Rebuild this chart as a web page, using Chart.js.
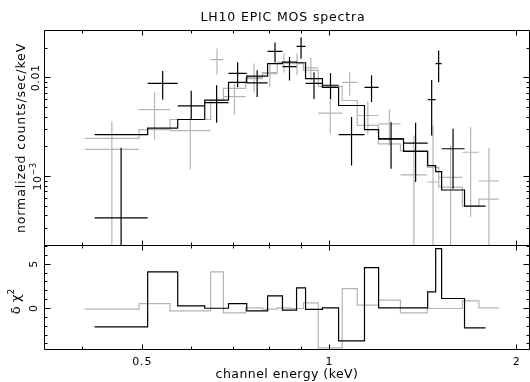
<!DOCTYPE html>
<html>
<head>
<meta charset="utf-8">
<title>LH10 EPIC MOS spectra</title>
<script src="https://cdn.jsdelivr.net/npm/chart.js@4.4.1/dist/chart.umd.min.js"></script>
<style>
  body { margin: 0; background: #ffffff; }
  #wrap { position: relative; width: 530px; height: 382px; }
  #wrap canvas { position: absolute; left: 0; top: 0; }
</style>
</head>
<body>
<div id="wrap">
  <canvas id="spectrum" width="530" height="382"></canvas>
  <canvas id="residuals" width="530" height="382"></canvas>
</div>
<script>
// ---- data ----

// MOS1 (black): channel bin edges in keV, count rate, error bar ends, model, residuals
const mos1Edges = [0.419, 0.510, 0.570, 0.630, 0.688, 0.736, 0.795, 0.840, 0.885, 0.915, 0.974, 1.034, 1.138, 1.199, 1.315, 1.438, 1.481, 1.514, 1.648, 1.782];
const mos1Rate  = [3.8e-4, 8.8e-3, 5.2e-3, 5.6e-3, 1.11e-2, 8.9e-3, 1.85e-2, 1.30e-2, 2.08e-2, 8.8e-3, 8.4e-3, 2.65e-3, 8.0e-3, 2.41e-3, 2.18e-3, 6.0e-3, 1.39e-2, 1.91e-3, null];
const mos1Low   = [0, 6.0e-3, 3.8e-3, 3.5e-3, 8.0e-3, 6.4e-3, 1.43e-2, 9.4e-3, 1.56e-2, 6.1e-3, 6.1e-3, 1.29e-3, 5.7e-3, 1.20e-3, 8.8e-4, 2.6e-3, 9.0e-3, 7.5e-4, null];
const mos1High  = [1.95e-3, 1.17e-2, 7.4e-3, 8.4e-3, 1.44e-2, 1.19e-2, 2.28e-2, 1.62e-2, 2.58e-2, 1.14e-2, 1.11e-2, 4.0e-3, 1.06e-2, 3.55e-3, 3.5e-3, 9.5e-3, 1.89e-2, 3.04e-3, null];
const mos1Model = [2.66e-3, 3.09e-3, 3.78e-3, 5.93e-3, 9.0e-3, 1.04e-2, 1.39e-2, 1.44e-2, 1.42e-2, 9.8e-3, 8.0e-3, 5.24e-3, 2.99e-3, 2.41e-3, 1.80e-3, 1.29e-3, 1.12e-3, 7.3e-4, 5.0e-4];
const mos1Resid = [-2.07, 4.13, 0.29, 0.03, 0.56, -0.27, 1.42, -0.19, 2.32, -0.11, 0.07, -3.65, 4.62, 0.07, 0.07, 1.87, 6.76, 1.13, -2.19];

// MOS2 (grey)
const mos2Edges = [0.404, 0.494, 0.554, 0.644, 0.675, 0.733, 0.780, 0.824, 0.866, 0.908, 0.959, 1.048, 1.108, 1.198, 1.300, 1.436, 1.498, 1.635, 1.738, 1.872];
const mos2Rate  = [1.88e-3, 4.77e-3, 2.92e-3, 1.53e-2, 6.46e-3, 1.01e-2, 1.10e-2, 1.43e-2, 1.39e-2, 1.26e-2, 4.38e-3, 9.0e-3, 4.15e-3, 3.42e-3, 1.04e-3, 8.8e-4, 9.8e-4, 1.76e-3, 9.0e-4];
const mos2Low   = [0, 2.37e-3, 1.18e-3, 1.08e-2, 4.25e-3, 7.1e-3, 8.0e-3, 1.13e-2, 1.06e-2, 9.4e-3, 2.71e-3, 6.6e-3, 2.66e-3, 2.06e-3, 0, 0, 0, 3.9e-4, 0];
const mos2High  = [3.61e-3, 7.15e-3, 3.87e-3, 1.98e-2, 8.76e-3, 1.40e-2, 1.41e-2, 1.76e-2, 1.76e-2, 1.61e-2, 6.13e-3, 1.14e-2, 5.79e-3, 4.77e-3, 2.6e-3, 3.29e-3, 2.06e-3, 3.16e-3, 1.95e-3];
const mos2Model = [2.43e-3, 2.99e-3, 3.78e-3, 5.89e-3, 7.8e-3, 9.8e-3, 1.13e-2, 1.40e-2, 1.40e-2, 1.19e-2, 8.2e-3, 5.89e-3, 3.29e-3, 2.14e-3, 1.83e-3, 1.24e-3, 7.8e-4, 5.0e-4, 5.9e-4];
const mos2Resid = [-0.08, 0.56, -0.27, 4.13, -0.5, 0.07, -0.08, 0.07, 0, 0.63, -4.44, 2.25, 0.37, 0.94, -0.5, 0, 0, 0.86, 0.07];

// axes
const energyMin = 0.3475, energyMax = 2.10;
const energyMajor = [0.5, 1, 2];
const energyMinor = [0.4, 0.6, 0.7, 0.8, 0.9];
const energyLabels = ['0.5', '1', '2'];

const rateMin = 1.976e-4, rateMax = 0.0305;
const rateMajor = [1e-3, 1e-2];
const rateMinor = [3e-4, 4e-4, 5e-4, 6e-4, 7e-4, 8e-4, 9e-4, 2e-3, 3e-3, 4e-3, 5e-3, 6e-3, 7e-3, 8e-3, 9e-3, 2e-2, 3e-2];

const residMin = -4.68, residMax = 7.16;
const residMajor = [0, 5];
const residMinor = [-4, -3, -2, -1, 1, 2, 3, 4, 6, 7];
const residLabels = ['0', '5'];

const BLACK = '#000000';
const GREY = '#b4b4b4';
const FONT = '"DejaVu Sans", sans-serif';


// error crosses: horizontal bar over the channel, vertical bar at its log centre
function crossPoints(edges, rate, low, high) {
  var pts = [];
  rate.forEach(function (v, i) {
    if (v === null) return;
    var lo = edges[i], hi = edges[i + 1], mid = Math.sqrt(lo * hi);
    pts.push({x: lo, y: v}, {x: hi, y: v}, {x: hi, y: null});
    // lower end below zero runs off the bottom of the log axis
    pts.push({x: mid, y: low[i] > 0 ? low[i] : 1e-6}, {x: mid, y: high[i]}, {x: mid, y: null});
  });
  return pts;
}

// histogram-style step line across the channels
function stepPoints(edges, vals) {
  var pts = [];
  vals.forEach(function (v, i) {
    pts.push({x: edges[i], y: v}, {x: edges[i + 1], y: v});
  });
  return pts;
}

function drawFrame(chart, yMajor, yMinor) {
  var ctx = chart.ctx, a = chart.chartArea;
  var x = chart.scales.x, y = chart.scales.y;
  var l = a.left + 0.5, r = a.right - 0.5, t = a.top + 0.5, b = a.bottom - 0.5;
  ctx.save();
  ctx.strokeStyle = BLACK;
  ctx.lineWidth = 1;
  ctx.beginPath();
  ctx.rect(l, t, r - l, b - t);
  function tickX(v, len) {
    var px = Math.floor(x.getPixelForValue(v)) + 0.5;
    ctx.moveTo(px, t); ctx.lineTo(px, t + len);
    ctx.moveTo(px, b); ctx.lineTo(px, b - len);
  }
  function tickY(v, len) {
    var py = Math.floor(y.getPixelForValue(v)) + 0.5;
    ctx.moveTo(l, py); ctx.lineTo(l + len, py);
    ctx.moveTo(r, py); ctx.lineTo(r - len, py);
  }
  energyMajor.forEach(function (v) { tickX(v, 5); });
  energyMinor.forEach(function (v) { tickX(v, 3); });
  yMajor.forEach(function (v) { tickY(v, 6); });
  yMinor.forEach(function (v) { tickY(v, 3); });
  ctx.stroke();
  ctx.restore();
}

// text, optionally turned to read bottom-to-top, with an optional superscript
function label(ctx, str, sup, x, y, size, spacing, rotate) {
  ctx.save();
  ctx.translate(x, y);
  if (rotate) ctx.rotate(-Math.PI / 2);
  ctx.fillStyle = BLACK;
  ctx.textBaseline = 'alphabetic';
  ctx.textAlign = 'left';
  ctx.letterSpacing = spacing + 'px';
  ctx.font = size + 'px ' + FONT;
  var w1 = ctx.measureText(str).width;
  var w2 = 0, supSize = Math.round(size * 0.7);
  if (sup) {
    ctx.font = supSize + 'px ' + FONT;
    w2 = ctx.measureText(sup).width;
  }
  var start = -(w1 + w2) / 2;
  ctx.font = size + 'px ' + FONT;
  ctx.fillText(str, start, 0);
  if (sup) {
    ctx.font = supSize + 'px ' + FONT;
    ctx.fillText(sup, start + w1, -size * 0.45);
  }
  ctx.restore();
}

var spectrumText = {
  id: 'spectrumText',
  afterDraw: function (chart) {
    var ctx = chart.ctx, a = chart.chartArea, y = chart.scales.y;
    drawFrame(chart, rateMajor, rateMinor);
    label(ctx, 'LH10 EPIC MOS spectra', '', 283, 20.5, 12.5, 0.85, false);
    label(ctx, 'normalized counts/sec/keV', '', 24.5, (a.top + a.bottom) / 2, 12.5, 0.9, true);
    label(ctx, '0.01', '', 38.5, y.getPixelForValue(rateMajor[1]), 11, 0.6, true);
    label(ctx, '10', '\u22123', 40.5, y.getPixelForValue(rateMajor[0]), 11, 0.6, true);
  }
};

var residText = {
  id: 'residText',
  afterDraw: function (chart) {
    var ctx = chart.ctx, a = chart.chartArea, x = chart.scales.x, y = chart.scales.y;
    drawFrame(chart, residMajor, residMinor);
    energyMajor.forEach(function (v, i) {
      label(ctx, energyLabels[i], '', x.getPixelForValue(v), 364.5, 11, 0.9, false);
    });
    label(ctx, 'channel energy (keV)', '', (a.left + a.right) / 2, 378, 12.5, 0.45, false);
    residMajor.forEach(function (v, i) {
      label(ctx, residLabels[i], '', 37, y.getPixelForValue(v), 11, 0, true);
    });
    label(ctx, '\u03b4 \u03c7', '2', 20, (a.top + a.bottom) / 2 + 4, 13, 0, true);
  }
};

var commonLine = {
  borderWidth: 1.2,
  pointRadius: 0,
  spanGaps: false,
  tension: 0,
  fill: false
};

var energyAxis = {
  type: 'logarithmic',
  min: energyMin,
  max: energyMax,
  bounds: 'data',
  display: false
};


var ctxSpectrum = document.getElementById('spectrum').getContext('2d');

new Chart(ctxSpectrum, {
  type: 'line',
  data: {
    datasets: [
      { label: 'MOS1 data', data: crossPoints(mos1Edges, mos1Rate, mos1Low, mos1High), borderColor: BLACK },
      { label: 'MOS1 model', data: stepPoints(mos1Edges, mos1Model), borderColor: BLACK },
      { label: 'MOS2 data', data: crossPoints(mos2Edges, mos2Rate, mos2Low, mos2High), borderColor: GREY },
      { label: 'MOS2 model', data: stepPoints(mos2Edges, mos2Model), borderColor: GREY }
    ]
  },
  options: {
    responsive: false,
    animation: false,
    events: [],
    layout: { padding: { left: 44, right: 0, top: 30, bottom: 136 } },
    datasets: { line: commonLine },
    plugins: { legend: { display: false }, tooltip: { enabled: false } },
    scales: {
      x: energyAxis,
      y: { type: 'logarithmic', min: rateMin, max: rateMax, bounds: 'data', display: false }
    }
  },
  plugins: [spectrumText]
});


var ctxResid = document.getElementById('residuals').getContext('2d');

new Chart(ctxResid, {
  type: 'line',
  data: {
    datasets: [
      { label: 'MOS1 residuals', data: stepPoints(mos1Edges, mos1Resid), borderColor: BLACK },
      { label: 'MOS2 residuals', data: stepPoints(mos2Edges, mos2Resid), borderColor: GREY }
    ]
  },
  options: {
    responsive: false,
    animation: false,
    events: [],
    layout: { padding: { left: 44, right: 0, top: 245, bottom: 32 } },
    datasets: { line: commonLine },
    plugins: { legend: { display: false }, tooltip: { enabled: false } },
    scales: {
      x: energyAxis,
      y: { type: 'linear', min: residMin, max: residMax, bounds: 'data', display: false }
    }
  },
  plugins: [residText]
});
</script>
</body>
</html>
